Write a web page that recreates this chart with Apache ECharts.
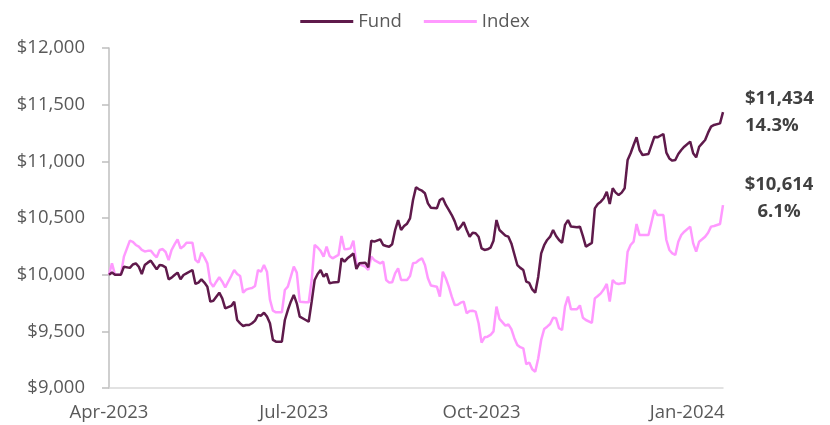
<!DOCTYPE html>
<html>
<head>
<meta charset="utf-8">
<script src="https://cdn.jsdelivr.net/npm/echarts@6/dist/echarts.min.js"></script>
<style>
  html, body { margin: 0; padding: 0; background: #fff; }
  #chart { width: 830px; height: 425px; }
</style>
</head>
<body>
<div id="chart"></div>
<script>
// trading-day index since the start (Apr-2023), sampled where the lines turn
const days = [
  0, 1, 2, 4, 5, 7, 8, 9, 10, 11, 12, 13, 14, 15, 16, 17, 18, 19, 20, 21,
  22, 23, 24, 25, 26, 28, 29, 30, 31, 32, 33, 34, 35, 36, 37, 38, 39, 41, 42, 43,
  44, 45, 46, 47, 48, 49, 50, 51, 52, 53, 54, 55, 56, 58, 59, 60, 61, 62, 63, 64,
  66, 67, 68, 69, 70, 71, 72, 73, 74, 75, 77, 78, 79, 80, 81, 82, 83, 84, 86, 87,
  88, 89, 91, 92, 93, 94, 95, 96, 97, 98, 99, 100, 101, 102, 103, 104, 105, 106, 107, 108,
  110, 111, 112, 113, 114, 115, 116, 117, 118, 119, 120, 121, 122, 123, 124, 125, 126, 127, 128, 129,
  130, 131, 133, 134, 135, 136, 137, 138, 139, 140, 141, 142, 143, 144, 145, 146, 147, 148, 149, 150,
  151, 152, 153, 154, 155, 157, 158, 159, 160, 162, 163, 164, 165, 166, 167, 168, 169, 170, 171, 172,
  173, 174, 175, 176, 177, 178, 179, 181, 183, 184, 186, 187, 188, 189, 190, 191, 192, 193, 195, 196,
  197, 198, 199, 200, 201, 202, 203, 205, 206
];

const fundValues = [
  10000, 10020, 10000, 10000, 10070, 10060, 10090, 10100, 10070, 10006, 10085, 10106, 10124, 10085, 10047, 10085, 10080, 10065, 9959, 9974,
  9997, 10018, 9959, 9997, 10012, 10041, 9918, 9930, 9959, 9930, 9894, 9762, 9770, 9806, 9841, 9791, 9703, 9724, 9762, 9600,
  9570, 9547, 9556, 9556, 9571, 9594, 9644, 9638, 9665, 9630, 9571, 9424, 9409, 9409, 9600, 9688, 9762, 9821, 9747, 9629,
  9600, 9585, 9762, 9953, 10006, 10040, 9982, 10010, 9924, 9930, 9935, 10144, 10115, 10144, 10165, 10188, 10050, 10100, 10106, 10065,
  10300, 10291, 10312, 10262, 10253, 10247, 10268, 10394, 10482, 10394, 10429, 10450, 10497, 10659, 10771, 10753, 10741, 10718, 10629, 10590,
  10585, 10659, 10674, 10615, 10571, 10526, 10470, 10394, 10424, 10462, 10394, 10335, 10370, 10365, 10335, 10232, 10218, 10224, 10238, 10300,
  10482, 10394, 10345, 10335, 10276, 10180, 10085, 10060, 10041, 9938, 9927, 9870, 9841, 9980, 10188, 10260, 10306, 10335, 10394, 10341,
  10306, 10282, 10440, 10482, 10424, 10418, 10424, 10340, 10247, 10280, 10585, 10624, 10644, 10674, 10732, 10624, 10762, 10724, 10703, 10724,
  10762, 11012, 11071, 11144, 11212, 11100, 11056, 11065, 11218, 11212, 11241, 11077, 11026, 11006, 11012, 11065, 11100, 11129, 11174, 11071,
  11035, 11129, 11159, 11188, 11253, 11306, 11321, 11335, 11434
];

const indexValues = [
  10000, 10100, 10000, 10000, 10159, 10300, 10290, 10262, 10247, 10218, 10205, 10210, 10212, 10180, 10153, 10218, 10226, 10200, 10129, 10218,
  10268, 10312, 10232, 10250, 10282, 10282, 10130, 10106, 10194, 10153, 10100, 9930, 9894, 9938, 9977, 9938, 9888, 9988, 10041, 10006,
  9988, 9841, 9868, 9877, 9882, 9900, 10041, 10026, 10085, 10026, 9780, 9682, 9668, 9668, 9865, 9894, 9982, 10071, 10018, 9762,
  9756, 9756, 9953, 10262, 10240, 10210, 10159, 10247, 10165, 10144, 10174, 10341, 10224, 10226, 10232, 10300, 10095, 10091, 10071, 10041,
  10159, 10129, 10100, 10115, 9953, 9930, 9932, 10012, 10056, 9953, 9953, 9953, 9988, 10100, 10106, 10129, 10144, 10085, 9968, 9905,
  9894, 9806, 10026, 9968, 9894, 9806, 9732, 9735, 9753, 9762, 9659, 9680, 9682, 9674, 9571, 9400, 9447, 9453, 9468, 9500,
  9718, 9610, 9550, 9560, 9520, 9440, 9380, 9360, 9350, 9210, 9225, 9165, 9144, 9260, 9424, 9520, 9541, 9565, 9620, 9615,
  9527, 9512, 9720, 9806, 9694, 9694, 9729, 9620, 9600, 9575, 9791, 9812, 9835, 9871, 9918, 9762, 9953, 9924, 9918, 9924,
  9924, 10203, 10262, 10291, 10447, 10350, 10350, 10350, 10571, 10526, 10526, 10306, 10218, 10188, 10174, 10291, 10350, 10379, 10424, 10276,
  10203, 10291, 10312, 10335, 10370, 10424, 10429, 10447, 10614
];

const startValue = 10000;
const tickDays = [0, 62, 125, 194];
const tickLabels = ['Apr-2023', 'Jul-2023', 'Oct-2023', 'Jan-2024'];

const FONT = 'Open Sans';
const FUND_COLOR = '#5f1a4b';
const INDEX_COLOR = '#ff99ff';

const pairs = (vals) => days.map((d, i) => [d, vals[i]]);
const money = (v) => '$' + Math.round(v).toLocaleString('en-US');
const pct = (v) => ((v / startValue - 1) * 100).toFixed(1) + '%';

const endRich = {
  v: { fontFamily: FONT, fontSize: 18.5, fontWeight: 'bold', color: '#404040', lineHeight: 27 },
};

const chart = echarts.init(document.getElementById('chart'));
chart.setOption({
  animation: false,
  textStyle: { fontFamily: FONT },
  legend: {
    top: 7,
    left: 'center',
    icon: 'rect',
    itemWidth: 53,
    itemHeight: 3,
    itemGap: 22,
    textStyle: { fontFamily: FONT, fontSize: 18.5, color: '#595959' },
    data: ['Fund', 'Index'],
  },
  grid: { left: 109, right: 107, top: 48, bottom: 37 },
  xAxis: {
    type: 'value',
    min: 0,
    max: days[days.length - 1],
    splitLine: { show: false },
    axisLine: { lineStyle: { color: '#d9d9d9', width: 1.5 } },
    axisTick: { show: false },
    axisLabel: {
      customValues: tickDays,
      formatter: (v) => tickLabels[tickDays.indexOf(v)],
      margin: 15,
      fontFamily: FONT,
      fontSize: 18.5,
      color: '#595959',
    },
  },
  yAxis: {
    type: 'value',
    min: 9000,
    max: 12000,
    interval: 500,
    splitLine: { show: false },
    axisLine: { show: true, lineStyle: { color: '#bfbfbf', width: 1.5 } },
    axisTick: { show: true, length: 7, lineStyle: { color: '#bfbfbf', width: 1.5 } },
    axisLabel: {
      margin: 24,
      fontFamily: FONT,
      fontSize: 18.5,
      color: '#595959',
      formatter: (v) => money(v),
    },
  },
  series: [
    {
      name: 'Fund',
      type: 'line',
      data: pairs(fundValues),
      symbol: 'none',
      z: 3,
      lineStyle: { color: FUND_COLOR, width: 2.5 },
      itemStyle: { color: FUND_COLOR },
      endLabel: {
        show: true,
        align: 'left',
        offset: [14, 0],
        formatter: (p) => '{v|' + money(p.value[1]) + '}\n{v|' + pct(p.value[1]) + '}',
        rich: endRich,
      },
    },
    {
      name: 'Index',
      type: 'line',
      data: pairs(indexValues),
      symbol: 'none',
      z: 2,
      lineStyle: { color: INDEX_COLOR, width: 2.5 },
      itemStyle: { color: INDEX_COLOR },
      endLabel: {
        show: true,
        align: 'center',
        offset: [48, -7],
        formatter: (p) => '{v|' + money(p.value[1]) + '}\n{v|' + pct(p.value[1]) + '}',
        rich: { v: Object.assign({}, endRich.v, { align: 'center' }) },
      },
    },
  ],
});
</script>
</body>
</html>
